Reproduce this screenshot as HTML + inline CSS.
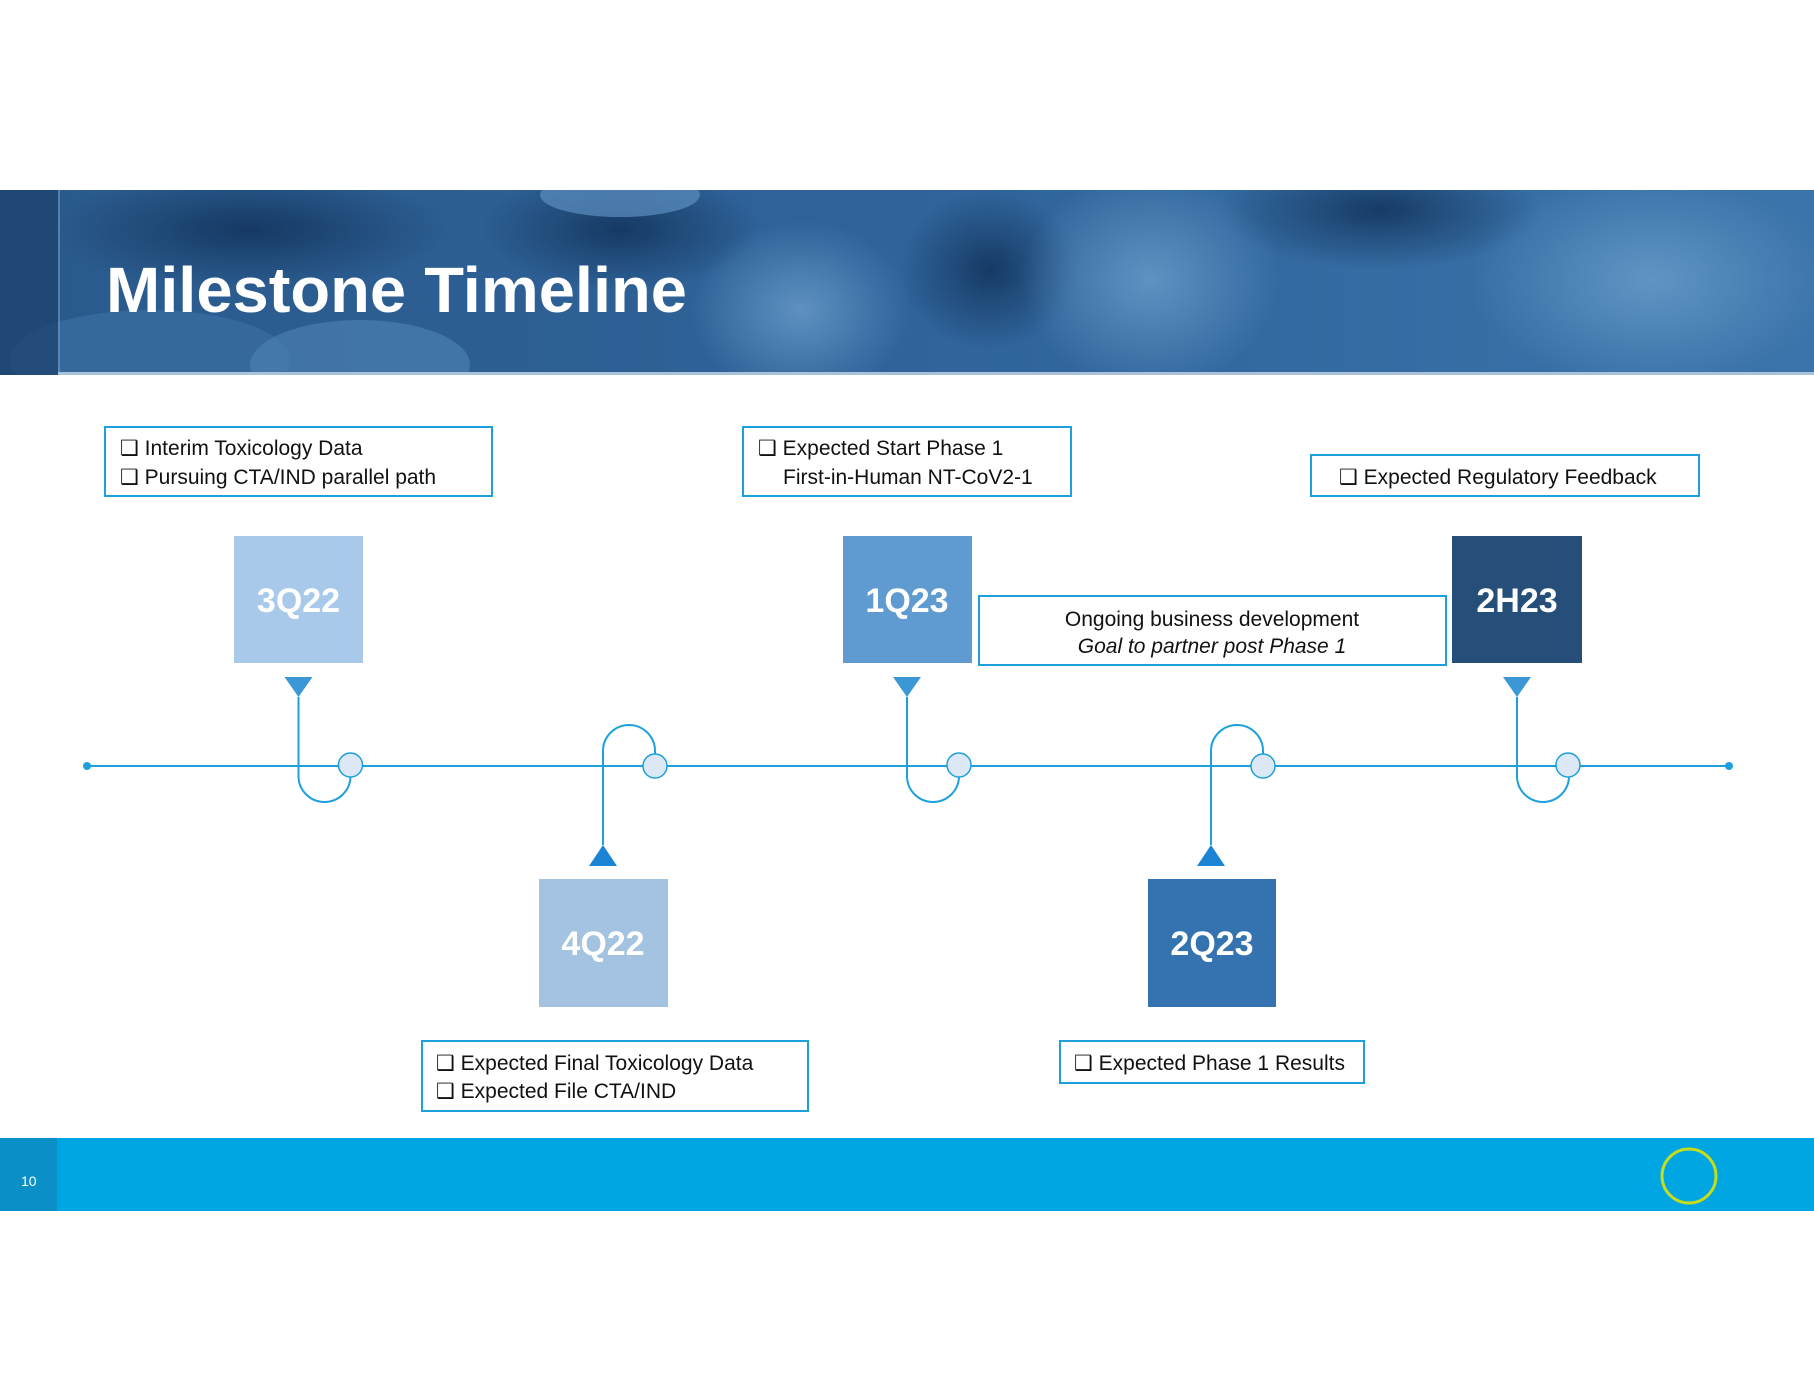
<!DOCTYPE html>
<html><head><meta charset="utf-8"><style>
html,body{margin:0;padding:0;background:#fff;}
svg{display:block;}
text{font-family:"Liberation Sans","DejaVu Sans",sans-serif;}
</style></head><body>
<svg width="1814" height="1400" viewBox="0 0 1814 1400" xmlns="http://www.w3.org/2000/svg">
<defs>
<radialGradient id="g1" cx="0.5" cy="0.5" r="0.5"><stop offset="0" stop-color="#13355e" stop-opacity="0.9"/><stop offset="1" stop-color="#13355e" stop-opacity="0"/></radialGradient>
<radialGradient id="g2" cx="0.5" cy="0.5" r="0.5"><stop offset="0" stop-color="#6a9dcc" stop-opacity="0.8"/><stop offset="1" stop-color="#6a9dcc" stop-opacity="0"/></radialGradient>
<linearGradient id="hb" x1="0" y1="0" x2="1" y2="0"><stop offset="0" stop-color="#2a5a8c"/><stop offset="0.5" stop-color="#2f639a"/><stop offset="1" stop-color="#3b74aa"/></linearGradient>
<clipPath id="hc"><rect x="0" y="190" width="1814" height="185"/></clipPath>
</defs>
<!-- header -->
<g clip-path="url(#hc)">
<rect x="0" y="190" width="1814" height="185" fill="url(#hb)"/>
<ellipse cx="990" cy="270" rx="90" ry="80" fill="url(#g1)"/>
<ellipse cx="1380" cy="210" rx="160" ry="60" fill="url(#g1)"/>
<ellipse cx="620" cy="230" rx="140" ry="60" fill="url(#g1)"/>
<ellipse cx="250" cy="230" rx="200" ry="60" fill="url(#g1)"/>
<ellipse cx="1150" cy="280" rx="130" ry="110" fill="url(#g2)"/>
<ellipse cx="1650" cy="280" rx="180" ry="110" fill="url(#g2)"/>
<ellipse cx="800" cy="310" rx="110" ry="90" fill="url(#g2)"/>
<ellipse cx="150" cy="360" rx="140" ry="50" fill="#3a6ea3" opacity="0.7"/>
<ellipse cx="360" cy="365" rx="110" ry="45" fill="#4a7eb2" opacity="0.7"/>
<ellipse cx="620" cy="195" rx="80" ry="22" fill="#5d8fc0" opacity="0.7"/>
<rect x="0" y="190" width="58" height="185" fill="#1e4370" opacity="0.75"/>
<rect x="58" y="190" width="2" height="185" fill="#7fa5cc" opacity="0.5"/>
</g>
<rect x="58" y="372" width="1756" height="3" fill="#a9c2dc"/>
<text x="106" y="312" font-size="64" font-weight="bold" fill="#fff" textLength="581" lengthAdjust="spacingAndGlyphs">Milestone Timeline</text>

<!-- timeline -->
<g stroke="#1ea0dc" stroke-width="2" fill="none">
<line x1="87" y1="766" x2="1729" y2="766"/>
<!-- top loops -->
<path d="M298.5 697 V776 A26 26 0 0 0 350.5 776 V766"/>
<path d="M907 697 V776 A26 26 0 0 0 959 776 V766"/>
<path d="M1517 697 V776 A26 26 0 0 0 1569 776 V766"/>
<!-- bottom loops -->
<path d="M603 845 V751 A26 26 0 0 1 655 751 V766"/>
<path d="M1211 845 V751 A26 26 0 0 1 1263 751 V766"/>
</g>
<circle cx="87" cy="766" r="4" fill="#1ea0dc"/>
<circle cx="1729" cy="766" r="4" fill="#1ea0dc"/>
<g fill="#dce8f5" stroke="#1ea0dc" stroke-width="1.5">
<circle cx="350.5" cy="765" r="12"/><circle cx="655" cy="766" r="12"/><circle cx="959" cy="765" r="12"/><circle cx="1263" cy="766" r="12"/><circle cx="1568" cy="765" r="12"/>
</g>
<g fill="#3c97d6">
<path d="M284.5 677 H312.5 L298.5 697 Z"/>
<path d="M893 677 H921 L907 697 Z"/>
<path d="M1503 677 H1531 L1517 697 Z"/>
<path d="M589 866 H617 L603 845 Z" fill="#1b84d4"/>
<path d="M1197 866 H1225 L1211 845 Z" fill="#1b84d4"/>
</g>

<!-- milestone boxes -->
<rect x="234" y="536" width="129" height="127" fill="#a9c9ea"/>
<rect x="539" y="879" width="129" height="128" fill="#a3c3e0"/>
<rect x="843" y="536" width="129" height="127" fill="#5f9bd0"/>
<rect x="1148" y="879" width="128" height="128" fill="#3573b0"/>
<rect x="1452" y="536" width="130" height="127" fill="#254f78"/>
<g font-size="34" font-weight="bold" fill="#fff" text-anchor="middle">
<text x="298.5" y="612">3Q22</text>
<text x="603" y="955">4Q22</text>
<text x="907" y="612">1Q23</text>
<text x="1212" y="955">2Q23</text>
<text x="1517" y="612">2H23</text>
</g>

<!-- text boxes -->
<g fill="#fff" stroke="#1ea0dc" stroke-width="2">
<rect x="105" y="427" width="387" height="69"/>
<rect x="743" y="427" width="328" height="69"/>
<rect x="1311" y="455" width="388" height="41"/>
<rect x="979" y="596" width="467" height="69"/>
<rect x="422" y="1041" width="386" height="70"/>
<rect x="1060" y="1041" width="304" height="42"/>
</g>
<g font-size="21" fill="#111">
<text x="120" y="455">❑ Interim Toxicology Data</text>
<text x="120" y="484">❑ Pursuing CTA/IND parallel path</text>
<text x="758" y="455">❑ Expected Start Phase 1</text>
<text x="783" y="484">First-in-Human NT-CoV2-1</text>
<text x="1339" y="484">❑ Expected Regulatory Feedback</text>
<text x="1212" y="626" text-anchor="middle">Ongoing business development</text>
<text x="1212" y="653" text-anchor="middle" font-style="italic">Goal to partner post Phase 1</text>
<text x="436" y="1070">❑ Expected Final Toxicology Data</text>
<text x="436" y="1098">❑ Expected File CTA/IND</text>
<text x="1074" y="1070">❑ Expected Phase 1 Results</text>
</g>

<!-- footer -->
<rect x="0" y="1138" width="1814" height="73" fill="#00a6e2"/>
<rect x="0" y="1138" width="57" height="73" fill="#0a8fc6"/>
<text x="21" y="1186" font-size="14" fill="#fff">10</text>
<circle cx="1689" cy="1176" r="27" fill="none" stroke="#c6dc1c" stroke-width="3"/>
</svg>
</body></html>
